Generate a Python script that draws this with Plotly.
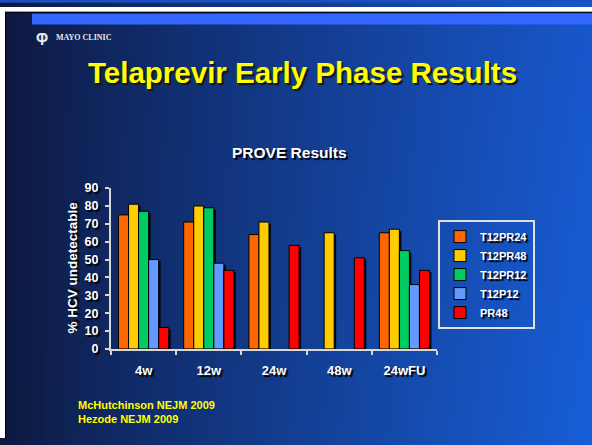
import base64, struct, zlib
import plotly.graph_objects as go

# ---------------- data ----------------
categories = ["4w", "12w", "24w", "48w", "24wFU"]
series_names = ["T12PR24", "T12PR48", "T12PR12", "T12P12", "PR48"]
t12pr24 = [75, 71, 64, None, 65]
t12pr48 = [81, 80, 71, 65, 67]
t12pr12 = [77, 79, None, None, 55]
t12p12 = [50, 48, None, None, 36]
pr48 = [12, 44, 58, 51, 44]
series_values = [t12pr24, t12pr48, t12pr12, t12p12, pr48]
y_ticks = [0, 10, 20, 30, 40, 50, 60, 70, 80, 90]

colors = ["#ff6600", "#ffcc00", "#00cc66", "#6699ff", "#ff0000"]

W, H = 592, 445

# ---------------- background gradient as PNG ----------------
def make_png(w, h):
    rows = []
    for j in range(h):
        fy = j / (h - 1)
        row = bytearray([0])
        for i in range(w):
            fx = i / (w - 1)
            t = fx ** 0.85
            r = 14 + (24 - 14) * t
            g = 24 + (88 - 24) * t + 8 * fy * t
            b = 62 + (205 - 62) * t + 14 * fy * t
            row += bytes([int(r), int(min(g, 255)), int(min(b, 255))])
        rows.append(bytes(row))
    raw = b"".join(rows)
    def chunk(tag, data):
        c = struct.pack(">I", len(data)) + tag + data
        return c + struct.pack(">I", zlib.crc32(tag + data) & 0xffffffff)
    png = b"\x89PNG\r\n\x1a\n"
    png += chunk(b"IHDR", struct.pack(">IIBBBBB", w, h, 8, 2, 0, 0, 0))
    png += chunk(b"IDAT", zlib.compress(raw, 9))
    png += chunk(b"IEND", b"")
    return "data:image/png;base64," + base64.b64encode(png).decode()

bg = make_png(148, 111)

fig = go.Figure()

# shadow bars (base axes, drawn underneath)
for name, vals in zip(series_names, series_values):
    fig.add_trace(go.Bar(x=categories, y=vals, name=name, showlegend=False,
                         marker=dict(color="rgba(0,0,0,0.85)", line=dict(width=0)),
                         hoverinfo="skip", xaxis="x", yaxis="y"))
# real bars
for name, vals, c in zip(series_names, series_values, colors):
    fig.add_trace(go.Bar(x=categories, y=vals, name=name,
                         marker=dict(color=c, line=dict(color="black", width=1)),
                         xaxis="x2", yaxis="y2"))

x0, x1 = 111 / W, 437 / W
y0, y1 = 1 - 353 / H, 1 - 187 / H
px_cat = (437 - 111) / 5
px_val = (353 - 187) / 90
dx = 2 / px_cat
dy = 2 / px_val

font_fam = "Liberation Sans, Arial, sans-serif"
SH = "2px 2px 1px #000000"
xtick_w = dict(family=font_fam, size=13, color="white", weight="bold", shadow=SH)
ytick_w = dict(family=font_fam, size=12.5, color="white", weight="bold", shadow=SH)

fig.update_layout(
    width=W, height=H,
    margin=dict(l=0, r=0, t=0, b=0),
    paper_bgcolor="#1a4fbf",
    plot_bgcolor="rgba(0,0,0,0)",
    barmode="group",
    bargap=0.23,
    bargroupgap=0,
    showlegend=True,
    xaxis=dict(domain=[x0, x1], range=[-0.5 - dx, 4.5 - dx], type="category",
               showline=False, showgrid=False, zeroline=False, showticklabels=False),
    yaxis=dict(domain=[y0, y1], range=[dy, 90 + dy],
               showline=False, showgrid=False, zeroline=False, showticklabels=False),
    xaxis2=dict(overlaying="x", anchor="y2", range=[-0.5, 4.5], type="category",
                showline=True, linecolor="#d8d8d8", linewidth=2, showgrid=False, zeroline=False,
                ticks="outside", ticklen=4, tickcolor="#d8d8d8", tickwidth=2, tickson="boundaries",
                tickfont=xtick_w, ticklabelstandoff=9),
    yaxis2=dict(overlaying="y", anchor="x2", range=[0, 90], tickvals=y_ticks,
                showline=True, linecolor="#d8d8d8", linewidth=2, showgrid=False, zeroline=False,
                ticks="outside", ticklen=4, tickcolor="#d8d8d8", tickwidth=2,
                tickfont=ytick_w, ticklabelstandoff=4),
    legend=dict(x=438 / W, y=1 - 220 / H, xanchor="left", yanchor="top",
                bgcolor="rgba(0,0,0,0)", bordercolor="#e0e0e0", borderwidth=2,
                font=dict(family=font_fam, size=11, color="white", weight="bold", shadow=SH),
                itemwidth=30, tracegroupgap=0),
    images=[dict(source=bg, xref="paper", yref="paper", x=0, y=1.01, sizex=1.02, sizey=1.04,
                 sizing="stretch", layer="below", xanchor="left", yanchor="top")],
)

shapes = [
    dict(type="rect", xref="paper", yref="paper", x0=0, x1=1, y0=1 - 5 / H, y1=1,
         fillcolor="white", line=dict(width=0)),
    dict(type="rect", xref="paper", yref="paper", x0=0, x1=5 / W, y0=0, y1=1,
         fillcolor="white", line=dict(width=0)),
    dict(type="line", xref="paper", yref="paper", x0=5 / W, x1=1, y0=1 - 5.5 / H, y1=1 - 5.5 / H,
         line=dict(color="black", width=1)),
    dict(type="line", xref="paper", yref="paper", x0=5.5 / W, x1=5.5 / W, y0=0, y1=1 - 5 / H,
         line=dict(color="black", width=1)),
    dict(type="rect", xref="paper", yref="paper", x0=32 / W, x1=1, y0=1 - 18 / H, y1=1 - 7 / H,
         fillcolor="#3366ff", line=dict(width=0)),
]
fig.update_layout(shapes=shapes)

def txt(text, x, y, size, color, shadow=SH, xanchor="center", textangle=0,
        family=font_fam, align="center"):
    return dict(text=text, xref="paper", yref="paper", x=x / W, y=1 - y / H,
                xanchor=xanchor, yanchor="middle", showarrow=False, textangle=textangle,
                align=align, font=dict(family=family, size=size, color=color, weight="bold",
                                       shadow=shadow))

ann = [
    txt("Telaprevir Early Phase Results", 302, 68, 29.5, "#ffff00", shadow="2px 2px 1px #151515"),
    txt("PROVE Results", 289, 150, 15.5, "white"),
    txt("% HCV undetectable", 73, 269, 13.5, "white", textangle=-90),
    txt("McHutchinson NEJM 2009<br>Hezode NEJM 2009", 76, 418, 11, "#ffff00",
        shadow="none", xanchor="left", align="left"),
    txt("MAYO CLINIC", 54, 31, 8, "#e8e8e8", shadow="none", xanchor="left",
        family="Liberation Serif, serif"),
    txt("Ⴔ", 34, 34, 14, "#e8e8e8", shadow="none", xanchor="left", family="DejaVu Sans"),
]
fig.update_layout(annotations=ann)

fig.write_html("out.html", post_script="document.body.style.margin='0px';",
               config={"displayModeBar": False})
